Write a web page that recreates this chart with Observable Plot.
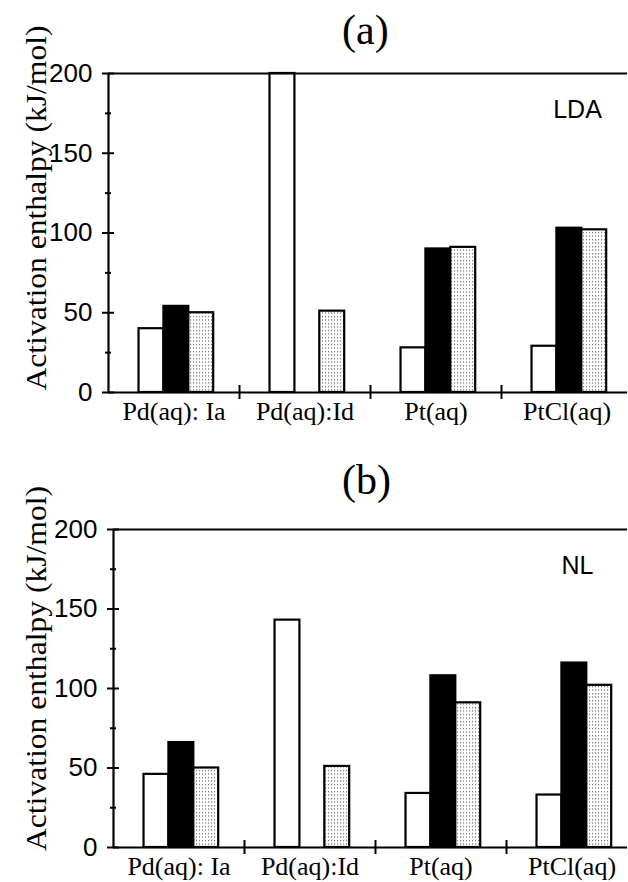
<!DOCTYPE html>
<html>
<head>
<meta charset="utf-8">
<script src="https://cdn.jsdelivr.net/npm/d3@7"></script>
<script src="https://cdn.jsdelivr.net/npm/@observablehq/plot@0.6"></script>
<style>
  html, body { margin: 0; padding: 0; background: #fff; }
  #wrap { width: 628px; height: 882px; position: relative; overflow: hidden; }
  .ptitle { font-family: "Liberation Serif", "Times New Roman", serif; font-size: 42px; color: #000; position: absolute; width: 628px; text-align: left; line-height: 1; }
  .panel { position: absolute; left: 0; }
  svg { overflow: visible; }
</style>
</head>
<body>
<div id="wrap"></div>
<script>
// ---- data ----
const categories = ["Pd(aq): Ia", "Pd(aq):Id", "Pt(aq)", "PtCl(aq)"];
const seriesNames = ["open", "filled", "dotted"];
// panel (a) LDA
const ldaOpen   = [40, 200, 28, 29];
const ldaFilled = [54, null, 90, 103];
const ldaDotted = [50, 51, 91, 102];
// panel (b) NL
const nlOpen   = [46, 143, 34, 33];
const nlFilled = [66, null, 108, 116];
const nlDotted = [50, 51, 91, 102];
const yMajorTicks = [0, 50, 100, 150, 200];
const yMinorTicks = [25, 75, 125, 175];
const yLabel = "Activation enthalpy (kJ/mol)";

const fills = {open: "white", filled: "black", dotted: "url(#dots)"};

function rows(open, filled, dotted) {
  const out = [];
  const cols = [open, filled, dotted];
  categories.forEach((c, i) => {
    seriesNames.forEach((s, k) => {
      const v = cols[k][i];
      if (v != null) out.push({cat: c, ci: i, series: s, k, value: v});
    });
  });
  return out;
}

const BAR = 0.19;              // bar width in category units
const START = (1 - 3 * BAR) / 2 + 0.018;
const noLabel = () => "";

function panel(data, tag, opts) {
  const marks = [];
  for (const s of seriesNames) {
    marks.push(Plot.rectY(data.filter(d => d.series === s), {
      x1: d => d.ci + START + d.k * BAR,
      x2: d => d.ci + START + (d.k + 1) * BAR,
      y1: 0,
      y2: "value",
      fill: fills[s],
      stroke: "black",
      strokeWidth: 2.2
    }));
  }
  marks.push(
    Plot.ruleY([0], {stroke: "black", strokeWidth: 2.2}),
    Plot.ruleY([200], {stroke: "black", strokeWidth: 2.2}),
    Plot.ruleX([0], {y1: 0, y2: 200, stroke: "black", strokeWidth: 2.2}),
    Plot.ruleX([4], {y1: 0, y2: 200, stroke: "black", strokeWidth: 1}),
    // y axis: major ticks outward with labels, plus inward halves
    Plot.axisY({ticks: yMajorTicks, tickSize: 6, tickPadding: 10, tickFormat: d => String(d),
      fontSize: 26, fontFamily: "Liberation Sans, Arial, sans-serif", strokeWidth: 2, label: null}),
    Plot.axisY({ticks: yMajorTicks, tickSize: -6, tickFormat: noLabel, strokeWidth: 2, label: null}),
    Plot.axisY({ticks: yMinorTicks, tickSize: 3, tickFormat: noLabel, strokeWidth: 2, label: null}),
    Plot.axisY({ticks: yMinorTicks, tickSize: -3, tickFormat: noLabel, strokeWidth: 2, label: null}),
    // x axis: separators between categories
    Plot.axisX({ticks: [1, 2, 3], tickSize: 7, tickFormat: noLabel, strokeWidth: 2, label: null}),
    Plot.axisX({ticks: [1, 2, 3], tickSize: -7, tickFormat: noLabel, strokeWidth: 2, label: null}),
    // category labels
    Plot.axisX({ticks: d3.range(categories.length).map(i => i + 0.5), tickSize: 0, tickPadding: 9,
      tickFormat: v => categories[Math.floor(v)], fontSize: 26,
      fontFamily: "Liberation Serif, Times New Roman, serif", label: null}),
    // method tag
    Plot.text([tag], {frameAnchor: "top-right", textAnchor: "middle", dx: -50, dy: 27, fontSize: 25,
      fontFamily: "Liberation Sans, Arial, sans-serif", fill: "black"}),
    // y label
    Plot.text([yLabel], {frameAnchor: "left", textAnchor: "middle", rotate: -90, dx: opts.labelDx, dy: opts.labelDy,
      fontSize: 29, fontFamily: "Liberation Serif, Times New Roman, serif", fill: "black"})
  );
  const svg = Plot.plot({
    width: 628,
    height: opts.height,
    marginLeft: opts.left,
    marginRight: 1,
    marginTop: opts.top,
    marginBottom: opts.bottom,
    x: {type: "linear", domain: [0, 4], range: [opts.left, opts.left + 524], axis: null},
    y: {domain: [0, 200], axis: null},
    style: {background: "white", color: "black", overflow: "visible"},
    marks
  });
  // stretch the y label to the reference's length
  d3.select(svg).selectAll("text").filter(function() { return this.textContent === yLabel; })
    .attr("textLength", 365).attr("lengthAdjust", "spacingAndGlyphs");
  // dotted fill pattern
  const defs = d3.select(svg).insert("defs", ":first-child");
  const pat = defs.append("pattern").attr("id", "dots").attr("patternUnits", "userSpaceOnUse")
    .attr("width", 3).attr("height", 3.5);
  pat.append("rect").attr("width", 3).attr("height", 3.5).attr("fill", "white");
  pat.append("rect").attr("x", 1).attr("y", 1).attr("width", 1.1).attr("height", 1.1).attr("fill", "#555");
  return svg;
}

const wrap = document.getElementById("wrap");

function addTitle(text, top, left) {
  const t = document.createElement("div");
  t.className = "ptitle";
  t.textContent = text;
  t.style.top = top + "px";
  t.style.left = left + "px";
  t.style.width = "auto";
  wrap.appendChild(t);
}

// panel (a): frame top at 73, zero at 392
const svgA = panel(rows(ldaOpen, ldaFilled, ldaDotted), "LDA",
  {height: 440, top: 73, bottom: 48, left: 108, labelDx: -72, labelDy: -25});
const divA = document.createElement("div");
divA.className = "panel"; divA.style.top = "0px";
divA.appendChild(svgA); wrap.appendChild(divA);
addTitle("(a)", 9, 342);

// panel (b): frame top at 529, zero at 847
const svgB = panel(rows(nlOpen, nlFilled, nlDotted), "NL",
  {height: 442, top: 89, bottom: 35, left: 113, labelDx: -77, labelDy: -20});
const divB = document.createElement("div");
divB.className = "panel"; divB.style.top = "440px";
divB.appendChild(svgB); wrap.appendChild(divB);
addTitle("(b)", 459, 342);
</script>
</body>
</html>
